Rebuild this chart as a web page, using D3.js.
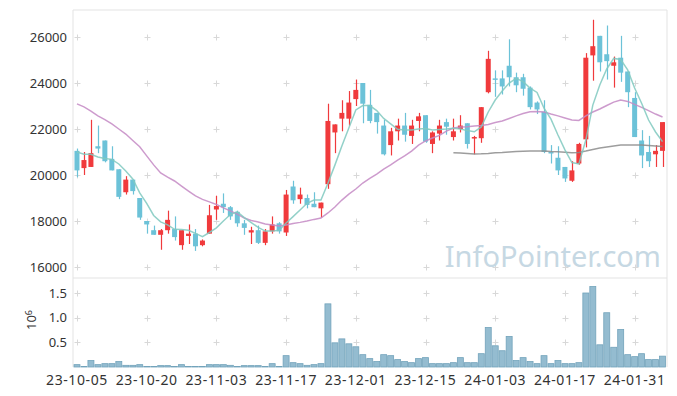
<!DOCTYPE html>
<meta charset="utf-8">
<title>candle chart</title>
<style>
    body { margin: 0; background: #fff; }
    svg text { font-family: "Noto Sans", sans-serif; }
</style>
<body>
<div id="chart"></div>
<script src="https://d3js.org/d3.v7.min.js"></script>
<script>
var width = 677, height = 396;
var left = 73, right = 667;
var priceTop = 10, priceBottom = 277, volTop = 278, volBottom = 367;

// trading days
var dates = [
    "2023-10-05","2023-10-06","2023-10-10","2023-10-11","2023-10-12","2023-10-13","2023-10-16","2023-10-17","2023-10-18","2023-10-19",
    "2023-10-20","2023-10-23","2023-10-24","2023-10-25","2023-10-26","2023-10-27","2023-10-30","2023-10-31","2023-11-01","2023-11-02",
    "2023-11-03","2023-11-06","2023-11-07","2023-11-08","2023-11-09","2023-11-10","2023-11-13","2023-11-14","2023-11-15","2023-11-16",
    "2023-11-17","2023-11-20","2023-11-21","2023-11-22","2023-11-23","2023-11-24","2023-11-27","2023-11-28","2023-11-29","2023-11-30",
    "2023-12-01","2023-12-04","2023-12-05","2023-12-06","2023-12-07","2023-12-08","2023-12-11","2023-12-12","2023-12-13","2023-12-14",
    "2023-12-15","2023-12-18","2023-12-19","2023-12-20","2023-12-21","2023-12-22","2023-12-26","2023-12-27","2023-12-28","2024-01-02",
    "2024-01-03","2024-01-04","2024-01-05","2024-01-08","2024-01-09","2024-01-10","2024-01-11","2024-01-12","2024-01-15","2024-01-16",
    "2024-01-17","2024-01-18","2024-01-19","2024-01-22","2024-01-23","2024-01-24","2024-01-25","2024-01-26","2024-01-29","2024-01-30",
    "2024-01-31","2024-02-01","2024-02-02","2024-02-05","2024-02-06"
];

var open = [
    21050,20300,20350,21250,21500,20700,20250,19250,19800,19000,
    18000,17600,17400,17600,17650,16950,17350,17450,16950,17450,
    18500,18750,18600,18400,17900,17500,17600,17050,17550,17900,
    17500,19500,18950,19000,18750,18550,19600,21850,22450,22450,
    23300,24000,23050,22700,22150,21300,21900,22150,21700,22350,
    22600,21350,21800,22300,21650,22000,22250,21600,21600,23600,
    24200,24200,24750,24250,24250,23800,23150,22750,21000,20750,
    20350,19750,20500,21550,25200,26050,25250,24750,25100,24500,
    23350,21500,21000,20900,21050
];
var high = [
    21150,21000,22400,22150,21500,21250,20250,19950,19800,19000,
    18000,17800,17650,18450,18200,17600,17850,17650,17200,18700,
    19100,19200,18650,18450,18050,17750,17800,17650,18200,17950,
    19350,19750,19450,19150,19250,18800,23100,22200,23250,23650,
    24150,24000,23700,22700,22400,22050,22450,22700,22400,22700,
    22600,21900,22400,22450,22450,22600,22250,21700,22950,25400,
    24550,24550,25900,24450,24400,23850,23200,23250,21300,21250,
    20350,20600,21400,25300,26750,26050,26500,25150,26050,24500,
    23600,21950,21700,21300,22300
];
var low = [
    19900,20000,20350,20950,20550,20200,18950,19150,19150,18050,
    17450,17400,16750,17450,17150,16750,17000,16700,16900,17450,
    18050,18350,18050,17750,17400,17000,17000,16950,17450,17450,
    17350,18750,18750,18550,18600,18150,19400,20950,21900,22150,
    23000,22250,22250,21800,20850,20850,21500,21450,21350,21900,
    21400,20950,21500,21750,21500,21850,21150,20900,21400,23550,
    23400,23500,23850,23600,23450,22850,22650,20950,20500,20000,
    19700,19700,20450,21200,24100,24500,24150,23800,24050,22950,
    21650,20300,20350,20350,20350
];
var close = [
    20200,20650,20950,21150,20600,20200,19050,19800,19300,18150,
    17850,17400,17600,18050,17300,17600,17450,16900,17150,18250,
    18650,18600,18200,17900,17700,17600,17050,17550,17850,17550,
    19150,18900,19150,18700,18600,18800,22350,22200,22700,23150,
    23700,23100,22350,22300,20900,21900,22150,21750,22150,22550,
    21450,21850,22150,22100,21900,22150,21350,21650,22950,25050,
    24150,23850,24250,23900,23750,22950,22850,21000,20950,20200,
    19850,20200,21350,25100,25600,24900,24950,24900,24450,23600,
    21650,20850,20600,21050,22300
];
var volume = [
    48000,10000,130000,48000,68000,68000,110000,34000,34000,48000,
    10000,10000,28000,28000,10000,48000,10000,10000,10000,48000,
    48000,48000,34000,10000,28000,28000,28000,10000,68000,10000,
    230000,88000,68000,34000,48000,68000,1280000,490000,570000,470000,
    410000,250000,170000,110000,250000,230000,150000,110000,88000,170000,
    190000,68000,68000,68000,88000,190000,88000,88000,270000,800000,
    430000,330000,620000,130000,190000,110000,68000,230000,68000,130000,
    68000,68000,88000,1500000,1630000,450000,1100000,400000,760000,250000,
    210000,270000,150000,150000,220000
];
// moving averages
var ma5 = [
    21000,20900,20900,20780,20720,20680,20480,20170,19830,19220,
    18770,18240,17960,17830,17640,17630,17600,17460,17320,17500,
    17700,18000,18280,18400,18150,17930,17720,17560,17560,17600,
    17910,18190,18480,18770,18910,18910,19640,20430,21260,22040,
    22830,23020,23020,22800,22460,22220,21990,21960,21960,22000,
    22020,21960,21980,22000,22030,22000,21930,21880,22090,22740,
    23260,23650,24000,24200,24060,23780,23590,22910,22430,21740,
    21090,20540,20480,21520,23040,23910,24610,25070,25020,24570,
    23780,23120,22390,21870,21450
];
var ma20 = [
    23090,22960,22780,22570,22410,22220,22000,21780,21500,21230,
    20830,20440,20090,19910,19740,19520,19300,19090,18940,18830,
    18720,18570,18440,18300,18130,18020,17960,17870,17830,17780,
    17830,17890,17940,18000,18070,18130,18350,18610,18910,19170,
    19390,19650,19850,20040,20260,20440,20650,20830,21040,21300,
    21480,21610,21720,21910,22040,22090,22100,22130,22150,22200,
    22280,22350,22460,22570,22670,22750,22760,22740,22650,22570,
    22480,22390,22370,22570,22740,22870,23020,23170,23260,23200,
    23070,22940,22800,22650,22520
];
var ma60 = [
    null,null,null,null,null,null,null,null,null,null,
    null,null,null,null,null,null,null,null,null,null,
    null,null,null,null,null,null,null,null,null,null,
    null,null,null,null,null,null,null,null,null,null,
    null,null,null,null,null,null,null,null,null,null,
    null,null,null,null,20970,20960,20940,20910,20920,20940,
    20970,20980,21000,21020,21030,21040,21040,21040,21020,21010,
    20990,20970,20980,21040,21110,21170,21220,21260,21300,21300,
    21300,21300,21280,21260,21240
];
var priceTicks = [16000, 18000, 20000, 22000, 24000, 26000];
var volTicks = [500000, 1000000, 1500000];
var labelEvery = 10;

var upColor = "#f03a3c", downColor = "#6cc2d8";

var svg = d3.select("#chart").append("svg")
    .attr("width", width)
    .attr("height", height);

var x = d3.scaleBand()
    .domain(dates)
    .range([73.5, 666]);
var cx = function(i) { return x(dates[i]) + x.bandwidth() / 2; };

var y = d3.scaleLinear()
    .domain([16000, 26000])
    .range([267, 37]);

var yv = d3.scaleLinear()
    .domain([0, 1500000])
    .range([367, 293]);

svg.append("clipPath").attr("id", "clipPrice")
    .append("rect").attr("x", left).attr("y", priceTop)
    .attr("width", right - left).attr("height", priceBottom - priceTop);

// frame
var frame = svg.append("g").attr("stroke", "#e3e3e3").attr("fill", "none");
frame.append("path").attr("d", "M" + left + "," + priceTop + "H" + right + "V" + volBottom);
frame.append("path").attr("d", "M" + left + "," + priceTop + "V" + volBottom);
frame.append("path").attr("d", "M" + left + "," + volTop + "H" + right);

var tickIdx = d3.range(0, dates.length, labelEvery);

// grid crosses
var cross = svg.append("g").attr("stroke", "#d8d8d8").attr("stroke-width", 1);
function addCrosses(ys) {
    tickIdx.forEach(function(i) {
        ys.forEach(function(yy) {
            var px = Math.round(cx(i)) + 0.5, py = Math.round(yy) + 0.5;
            cross.append("path").attr("d", "M" + (px - 3) + "," + py + "H" + (px + 3) + "M" + px + "," + (py - 3) + "V" + (py + 3));
        });
    });
}
addCrosses(priceTicks.map(y));
addCrosses(volTicks.map(yv));

// watermark
svg.append("text")
    .attr("x", 661)
    .attr("y", 267)
    .attr("text-anchor", "end")
    .style("font-size", "29px")
    .style("fill", "#c6d8e3")
    .text("InfoPointer.com");

// price axis labels
svg.append("g").selectAll("text")
    .data(priceTicks)
    .enter().append("text")
    .attr("x", 67)
    .attr("y", function(d) { return y(d); })
    .attr("dy", "0.35em")
    .attr("text-anchor", "end")
    .style("font-size", "13px")
    .style("fill", "#333")
    .text(function(d) { return d; });

// volume axis labels
svg.append("g").selectAll("text")
    .data(volTicks)
    .enter().append("text")
    .attr("x", 67)
    .attr("y", function(d) { return yv(d); })
    .attr("dy", "0.35em")
    .attr("text-anchor", "end")
    .style("font-size", "13px")
    .style("fill", "#333")
    .text(function(d) { return (d / 1e6).toFixed(1); });

var unit = svg.append("text")
    .attr("transform", "translate(36,320) rotate(-90)")
    .attr("text-anchor", "middle")
    .style("font-size", "13px")
    .style("fill", "#333");
unit.append("tspan").text("10");
unit.append("tspan").attr("dy", "-0.5em").style("font-size", "9px").text("6");

// date labels
svg.append("g").selectAll("text")
    .data(tickIdx)
    .enter().append("text")
    .attr("x", function(i) { return cx(i); })
    .attr("y", 385)
    .attr("text-anchor", "middle")
    .style("font-size", "14px")
    .style("letter-spacing", "0.6px")
    .style("fill", "#333")
    .text(function(i) { return dates[i].slice(2); });

// volume bars
svg.append("g").selectAll("rect")
    .data(volume)
    .enter().append("rect")
    .attr("x", function(d, i) { return x(dates[i]) + 0.5; })
    .attr("width", x.bandwidth() - 1)
    .attr("y", function(d) { return yv(d); })
    .attr("height", function(d) { return yv(0) - yv(d); })
    .style("fill", "#94bcd0")
    .style("stroke", "#72a3bb")
    .style("stroke-width", 0.8);

var plot = svg.append("g").attr("clip-path", "url(#clipPrice)");

// moving average lines
function maLine(arr, color, width) {
    var line = d3.line()
        .defined(function(d) { return d != null; })
        .x(function(d, i) { return cx(i); })
        .y(function(d) { return y(d); });
    plot.append("path")
        .datum(arr)
        .attr("d", line)
        .style("fill", "none")
        .style("stroke", color)
        .style("stroke-width", width)
        .style("opacity", 0.85);
}

// candles
var candles = plot.append("g").selectAll("g")
    .data(dates)
    .enter().append("g");

candles.append("line")
    .attr("x1", function(d, i) { return Math.round(cx(i)) + 0.5; })
    .attr("x2", function(d, i) { return Math.round(cx(i)) + 0.5; })
    .attr("y1", function(d, i) { return y(high[i]); })
    .attr("y2", function(d, i) { return y(low[i]); })
    .style("stroke", function(d, i) { return close[i] >= open[i] ? upColor : downColor; })
    .style("stroke-width", 1.2);

candles.append("rect")
    .attr("x", function(d, i) { return cx(i) - 2.5; })
    .attr("width", 5)
    .attr("y", function(d, i) { return y(Math.max(open[i], close[i])); })
    .attr("height", function(d, i) { return Math.max(1.5, Math.abs(y(open[i]) - y(close[i]))); })
    .style("fill", function(d, i) { return close[i] >= open[i] ? upColor : downColor; });

maLine(ma60, "#8c8c8c", 1.5);
maLine(ma20, "#c48ac4", 1.5);
maLine(ma5, "#80c9c0", 1.5);
</script>
</body>
